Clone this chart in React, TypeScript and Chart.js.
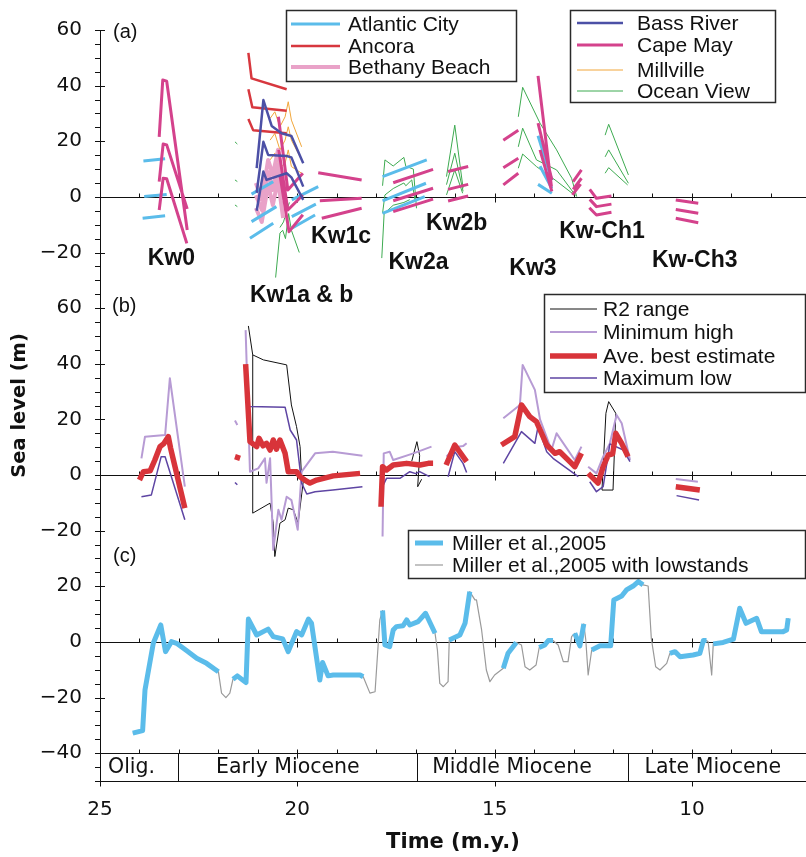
import { useEffect, useRef } from "react";
import { Chart, registerables } from "chart.js";

Chart.register(...registerables);

type Pt = [number, number];

// Each panel shares one vertical axis; its zero sits at this offset.
const OFFSET_A = 160;
const OFFSET_B = 60;
const OFFSET_C = 0;

const X_LEFT = 25;
const X_RIGHT = 7.11;
const Y_MIN = -50;
const Y_MAX = 220;

const timeTicks = [25, 20, 15, 10];

const epochNames = ["Olig.", "Early Miocene", "Middle Miocene", "Late Miocene"];
const epochBounds = [25, 23.03, 16.97, 11.61, 7.11];
const epochLabelTimes = [24.2, 20.24, 14.56, 9.47];

const kwLabels = ["Kw0", "Kw1a & b", "Kw1c", "Kw2a", "Kw2b", "Kw3", "Kw-Ch1", "Kw-Ch3"];
const kwLabelTimes = [23.19, 19.89, 18.89, 16.93, 15.96, 14.03, 12.28, 9.93];
const kwLabelLevels = [-22.3, -35.6, -14.4, -23.7, -9.7, -25.9, -12.6, -23.0];

// ---- (a) individual well estimates ----
const atlanticCity: Pt[][] = [
  [[23.9, 12.9], [23.35, 13.7]],
  [[23.88, 0.1], [23.31, 0.9]],
  [[23.92, -7.7], [23.35, -6.8]],
  [[21.16, 1.0], [20.61, 5.5]],
  [[21.16, -8.9], [20.53, -3.5]],
  [[21.2, -14.9], [20.61, -9.5]],
  [[20.14, -1.1], [19.47, 3.7]],
  [[20.14, -7.1], [19.53, -2.6]],
  [[20.14, -11.3], [19.55, -6.5]],
  [[17.84, 7.3], [16.72, 13.3]],
  [[17.84, -1.4], [16.74, 4.9]],
  [[17.84, -5.9], [16.77, 0.1]],
  [[13.9, 22], [13.55, 6]],
  [[13.85, 11], [13.55, 3]],
  [[13.9, 4.5], [13.55, 1.3]],
];

const ancora: Pt[][] = [
  [[21.24, 51.8], [21.16, 42.6], [20.27, 38.7]],
  [[21.24, 38.7], [21.14, 32.2], [20.27, 31.0]],
  [[21.24, 28.0], [21.12, 24.0], [20.27, 22.9]],
];

const bethanyBeach: Pt[][] = [
  [[21.05, 5], [20.9, -1], [20.74, 13.3], [20.62, 7.9], [20.49, 16.9], [20.36, 4.3]],
  [[21.05, 0.6], [20.9, -4.7], [20.74, 9], [20.62, 2.5], [20.49, 11.5], [20.36, -1.1]],
  [[21.05, -4], [20.9, -9], [20.74, 4.3], [20.62, -2.9], [20.49, 6.1], [20.36, -7.6]],
];

const bassRiver: Pt[][] = [
  [[21.03, 10.3], [20.86, 34.8], [20.65, 25.5], [20.4, 22.9], [20.15, 21.9], [19.85, 12.1]],
  [[21.03, 1.5], [20.86, 19.8], [20.74, 15.1], [20.27, 14.7], [20.15, 14.2], [19.85, 3.7]],
  [[21.03, -5.0], [20.86, 9.1], [20.78, 6.1], [20.27, 8.5], [20.15, 7], [19.85, -1.1]],
];

const capeMay: Pt[][] = [
  [[23.5, 21.6], [23.41, 42], [23.31, 41.6], [22.79, -11.9]],
  [[23.5, 5.5], [23.4, 19], [23.31, 18.7], [22.79, -4.3]],
  [[23.5, -4.7], [23.4, 6.7], [23.31, 6.5], [22.8, -16.7]],
  [[20.48, 28.8], [20.24, 2.5], [19.86, 8.5]],
  [[20.47, 16.9], [20.24, -4.7], [19.86, 0.7]],
  [[20.44, 7.9], [20.21, -12.5], [19.86, -6.4]],
  [[19.47, 8.7], [18.37, 6.1]],
  [[19.43, -1.4], [18.37, -0.5]],
  [[19.38, -7.7], [18.37, -4.1]],
  [[17.57, 5.1], [16.56, 9.9]],
  [[17.57, -1.4], [16.56, 3.1]],
  [[17.57, -5.3], [16.56, -0.8]],
  [[16.18, 9.1], [15.67, 10.9]],
  [[16.18, 2.7], [15.67, 4.5]],
  [[16.18, -1.5], [15.67, 0.3]],
  [[14.78, 20.4], [14.4, 24]],
  [[14.78, 10.5], [14.4, 13.9]],
  [[14.78, 4.3], [14.4, 8.5]],
  [[13.9, 43.5], [13.56, 3.7]],
  [[13.9, 26.5], [13.55, 6.1]],
  [[13.85, 16.9], [13.55, 2]],
  [[13.01, 5.5], [12.8, 9.7]],
  [[13.01, 2.7], [12.8, 6.7]],
  [[13.03, 0.7], [12.82, 4.6]],
  [[12.59, 2.7], [12.42, -0.5], [12.04, 0.3]],
  [[12.59, -0.9], [12.42, -3.5], [12.04, -2.6]],
  [[12.6, -3.9], [12.42, -6.5], [12.04, -5.5]],
  [[10.41, -1.1], [9.84, -2.3]],
  [[10.41, -4.5], [9.84, -5.9]],
  [[10.41, -7.7], [9.84, -9.3]],
];

const millville: Pt[][] = [
  [[20.69, 28.2], [20.57, 30.6], [20.44, 25.2], [20.31, 28.8], [20.23, 34.2], [20.15, 27.6], [19.89, 18.0]],
  [[20.69, 20.4], [20.57, 22.8], [20.44, 16.9], [20.31, 20.4], [20.23, 25.2], [20.15, 20.4], [19.89, 13.3]],
  [[20.69, 13.3], [20.57, 15.7], [20.44, 10.3], [20.31, 12.1], [20.23, 16.9], [20.15, 10.9], [19.89, 8.5]],
];

const oceanView: Pt[][] = [
  [[21.58, 19.8], [21.52, 19.0]],
  [[21.58, 6.1], [21.52, 5.5]],
  [[21.58, -2.9], [21.52, -3.5]],
  [[20.55, -29], [20.44, -13], [20.37, -12], [20.3, -15], [20.22, -6], [20.15, -12], [19.95, -20]],
  [[20.44, -11], [20.35, -9], [20.25, -4], [20.2, -2]],
  [[17.84, 4], [17.78, 13.3], [17.57, 11.1], [17.3, 14.2], [17.25, 11], [17.06, 10], [16.98, -4.1]],
  [[17.84, -5.9], [17.78, 0.7], [17.57, 3], [17.3, 5], [17.25, 4], [17.1, 6.1], [17.02, -1]],
  [[17.86, -22], [17.8, -6], [17.57, -3], [17.3, -2], [17.15, -1]],
  [[16.22, 7.3], [16.01, 25.8], [15.8, 3.1]],
  [[16.22, 4.4], [16.01, 15.7], [15.8, 2]],
  [[16.22, 0.7], [16.01, 9.7], [15.81, 1.3]],
  [[14.4, 28.8], [14.29, 39.4], [13.85, 26.5], [13.43, 16.9], [13.05, 6.7], [12.92, 0.1]],
  [[14.4, 18], [14.29, 24.7], [13.94, 13.3], [13.43, 9.7], [12.95, 0.5]],
  [[14.4, 10.3], [14.29, 15.4], [13.94, 10.9], [13.47, 6.1], [12.98, 0.7]],
  [[12.2, 22.2], [12.11, 26.1], [11.61, 7.9]],
  [[12.2, 14.4], [12.11, 16.9], [11.61, 4.9]],
  [[12.2, 8.5], [12.11, 10.5], [11.63, 4.3]],
];

// ---- (b) combined estimates ----
const r2Range: Pt[][] = [
  [[21.24, 53.6], [21.13, 43.2], [20.86, 41.4], [20.27, 39.6], [20.15, 25.2], [20.02, 17.4], [19.93, 10.2],
   [19.89, -1.8], [19.85, -2.4], [19.98, -17.3], [20.1, -12.5], [20.23, -11.9], [20.31, -16.1], [20.44, -17.3],
   [20.57, -29.3], [20.61, -17.3], [20.69, -10.1], [21.13, -13.7], [21.13, 43.2]],
  [[17.1, 5], [16.97, 12], [16.9, 7], [16.95, -4.2], [16.85, -1.5]],
  [[12.28, -5.4], [12.18, 22.2], [12.11, 26.4], [11.93, 22.2], [12.0, -5.4], [12.28, -5.4]],
];

const minimumHigh: Pt[][] = [
  [[23.95, 6], [23.86, 13.8], [23.35, 14.4], [23.23, 34.8], [22.85, -4.2]],
  [[21.58, 19.6], [21.52, 18]],
  [[21.31, 52.1], [21.2, 1.2], [20.99, 2.4], [20.82, 6], [20.78, -2.8], [20.69, 6], [20.61, -26.9], [20.48, -12.5],
   [20.4, -16.1], [20.27, -7.8], [20.15, -9], [19.99, -19.7], [19.89, 1.2], [19.55, 7.8], [19.1, 8.4], [18.35, 6.9]],
  [[17.84, -22.1], [17.81, 7.8], [17.66, 8.4], [17.57, 5.4], [17.06, 7.8], [16.6, 10.2]],
  [[16.22, 6.6], [16.01, 10], [15.8, 10.4], [15.71, 11.4]],
  [[14.78, 20.4], [14.36, 25.2], [14.29, 39.6], [13.98, 30.6], [13.85, 20], [13.56, 9], [13.43, 15], [12.97, 5.4], [12.8, 10.2]],
  [[12.63, 3], [12.42, 0.6], [12.25, 6.6], [12.08, 11.4], [11.91, 21.6], [11.78, 18.6], [11.57, 5.4]],
  [[10.41, -1.4], [9.85, -2.4]],
];

const aveBestEstimate: Pt[][] = [
  [[24.0, -1.8], [23.9, 1.2], [23.73, 1.5], [23.61, 5.4], [23.48, 10.2], [23.39, 11.2], [23.27, 13.8], [23.21, 9.6], [22.85, -11.9]],
  [[21.58, 6.6], [21.45, 6.0]],
  [[21.31, 39.9], [21.2, 12], [21.03, 10.2], [20.97, 13.2], [20.87, 10.5], [20.78, 11.4], [20.69, 9], [20.61, 12.6],
   [20.53, 9.3], [20.44, 12.6], [20.31, 7.8], [20.23, 1.2], [20.02, 1.2], [19.93, -0.6], [19.81, -1.8], [19.68, -2.9],
   [19.51, -1.8], [19.09, -0.3], [18.41, 0.6]],
  [[17.88, -11.4], [17.84, 3], [17.74, 1.8], [17.57, 3.6], [17.23, 4.2], [16.89, 3.6], [16.68, 4.2], [16.56, 4.2]],
  [[16.23, 3.6], [16.01, 10.8], [15.71, 4.8]],
  [[14.83, 10.8], [14.49, 13.8], [14.32, 25.2], [14.11, 21], [13.94, 19.2], [13.68, 10.8], [13.47, 7.8], [13.35, 8.4],
   [13.05, 4.2], [12.97, 3], [12.8, 7.8]],
  [[12.63, 0.6], [12.38, -2.9], [12.25, 3], [12.12, 7.2], [12.01, 7.6], [11.93, 15], [11.78, 11.4], [11.62, 6.6]],
  [[10.41, -4.2], [9.8, -5.4]],
];

const maximumLow: Pt[][] = [
  [[23.95, -7.8], [23.7, -7.2], [23.45, 6.6], [23.35, 6.6], [22.85, -16.1]],
  [[21.58, -2.7], [21.52, -3.5]],
  [[21.31, 28], [21.22, 24.6], [20.31, 24.4], [20.18, 16.2], [20.02, 12.6], [19.89, -2.9], [19.76, -6.8], [19.55, -6],
   [19.1, -5.4], [18.35, -4.2]],
  [[17.86, -4.7], [17.74, -1.2], [17.4, -1.2], [17.15, 1.2], [17.0, 0.5], [16.9, 1.2], [16.65, -0.6]],
  [[16.18, -0.6], [16.01, 8.4], [15.8, 4.2], [15.71, 0.9]],
  [[14.78, 4.2], [14.32, 15.6], [13.98, 11.4], [13.9, 17.4], [13.68, 8.4], [13.52, 6], [12.88, -0.6]],
  [[12.59, -2.4], [12.42, -6], [12.25, -4.2], [12.08, 11.2], [11.74, 9], [11.57, 4.8]],
  [[10.39, -7.4], [9.82, -9]],
];

// ---- (c) Miller et al. (2005) curve; highstand pieces and the lowstands between them ----
const miller2005: Pt[][] = [
  [[24.17, -32.8], [23.92, -31.9], [23.86, -17.3], [23.65, -0.5], [23.46, 6.1], [23.34, -3.5], [23.19, 0.1],
   [23.06, -0.5], [22.8, -3.2], [22.55, -5.9], [22.3, -7.7], [22.0, -10.7]],
  [[21.63, -13.4], [21.52, -12.2], [21.41, -13.4], [21.3, -14.6], [21.24, 8.2], [21.03, 2.5], [20.74, 4.6], [20.61, 1.9],
   [20.37, 1.1], [20.23, -3.5], [20.02, 3.7], [19.89, 2.5], [19.72, 8.2], [19.64, 6.7], [19.43, -13.7], [19.36, -7.4],
   [19.22, -12.2], [19.09, -11.9], [18.41, -11.9], [18.33, -12.5]],
  [[17.84, 11.3], [17.78, -1.1], [17.66, -1.7], [17.57, 4.3], [17.49, 5.5], [17.32, 5.8], [17.23, 7.9], [17.15, 6.1],
   [16.94, 7.3], [16.75, 10.3], [16.51, 3.1]],
  [[16.15, 0.7], [15.88, 2.5], [15.75, 6.7], [15.63, 18.1]],
  [[14.78, -9.5], [14.66, -4.1], [14.45, -0.2]],
  [[13.87, -2.0], [13.73, -1.1], [13.64, 0.5], [13.52, 0.5]],
  [[12.97, 3.1], [12.84, -1.4], [12.74, 6.5]],
  [[12.54, -2.9], [12.33, -1.4], [12.06, -1.4], [11.98, 15.1], [11.78, 16.5], [11.66, 18.7], [11.49, 20.1],
   [11.36, 21.7], [11.24, 20.5]],
  [[10.56, -4.1], [10.43, -3.5], [10.3, -5.3], [9.97, -4.7], [9.8, -4.1], [9.71, 0.5], [9.63, 0.5]],
  [[9.46, -0.7], [9.21, -0.2], [8.95, 1.0], [8.79, 12.1], [8.63, 6.7], [8.36, 8.5], [8.24, 3.7], [7.69, 3.7],
   [7.6, 4.3], [7.56, 8.5]],
];

const lowstands: Pt[][] = [
  [[21.92, -18.4], [21.81, -20], [21.71, -18.4]],
  [[18.16, -18.4], [18.03, -17.9], [17.91, 7.9]],
  [[16.45, -2.9], [16.39, -14.9], [16.3, -16.1], [16.18, -14.3]],
  [[15.5, 15.1], [15.46, 15.1], [15.33, 4.3], [15.21, -10.1], [15.12, -14.3], [15.0, -11.9]],
  [[14.32, -1.1], [14.23, -8.9], [14.11, -10.1], [13.95, -8.3]],
  [[13.39, -1.1], [13.26, -7.1], [13.14, -7.1], [13.05, 1.9]],
  [[12.69, 0.7], [12.63, -11.9]],
  [[11.11, 20.1], [11.03, 1.3], [10.92, -8.9], [10.81, -10.1], [10.64, -7.7]],
  [[9.59, 0.1], [9.5, -11.9]],
];

// The thin curve runs through every highstand piece and the lowstand that follows it.
const withLowstands: Pt[][] = [
  miller2005.reduce<Pt[]>((acc, seg, i) => acc.concat(seg, lowstands[i] || []), []),
];

const C = {
  atlantic: "#5BBCEA",
  ancora: "#D7373E",
  bethany: "#E9A2C8",
  bass: "#4C50A6",
  cape: "#D4428C",
  millville: "#F1A63A",
  ocean: "#3DAA50",
  r2: "#111111",
  minHigh: "#B79BD4",
  ave: "#D8343A",
  maxLow: "#5E45A3",
  lowstand: "#9A9A9A",
};

const SANS = "'Liberation Sans', Arial, Helvetica, sans-serif";
const AXIS = "'DejaVu Sans', 'Liberation Sans', sans-serif";

function toPoints(segs: Pt[][], offset: number) {
  const out: { x: number; y: number | null }[] = [];
  segs.forEach((seg, i) => {
    if (i > 0) out.push({ x: seg[0][0], y: null });
    seg.forEach(([t, v]) => out.push({ x: t, y: v + offset }));
  });
  return out;
}

function line(label: string, segs: Pt[][], offset: number, color: string, width: number, order: number) {
  return {
    label,
    data: toPoints(segs, offset),
    borderColor: color,
    backgroundColor: color,
    borderWidth: width,
    pointRadius: 0,
    tension: 0,
    spanGaps: false,
    fill: false,
    order,
    borderJoinStyle: "round" as const,
  };
}

function yTickLabel(v: number) {
  if (v < -40) return "";
  const local = v <= 20 ? v - OFFSET_C : v <= 120 ? v - OFFSET_B : v - OFFSET_A;
  return local < 0 ? "\u2212" + Math.abs(local) : String(local);
}

type LegendItem = { label: string; color: string; width: number };

function drawLegend(
  ctx: CanvasRenderingContext2D,
  box: [number, number, number, number],
  items: LegendItem[],
  rows: number[],
  sample: [number, number],
  textX: number
) {
  const [x0, y0, x1, y1] = box;
  ctx.fillStyle = "#ffffff";
  ctx.fillRect(x0, y0, x1 - x0, y1 - y0);
  ctx.strokeStyle = "#2a2a2a";
  ctx.lineWidth = 1.5;
  ctx.strokeRect(x0, y0, x1 - x0, y1 - y0);
  ctx.font = `21px ${SANS}`;
  ctx.textAlign = "left";
  ctx.textBaseline = "middle";
  items.forEach((it, i) => {
    const yy = rows[i];
    ctx.strokeStyle = it.color;
    ctx.lineWidth = it.width;
    ctx.beginPath();
    ctx.moveTo(sample[0], yy);
    ctx.lineTo(sample[1], yy);
    ctx.stroke();
    ctx.fillStyle = "#111";
    ctx.fillText(it.label, textX, yy + 1);
  });
}

const decor = {
  id: "decor",
  beforeDatasetsDraw(chart: any) {
    const { ctx, chartArea: ca, scales } = chart;
    const x = scales.x;
    const y = scales.y;
    const px = (t: number) => Math.round(x.getPixelForValue(t)) + 0.5;
    const py = (v: number) => Math.round(y.getPixelForValue(v)) + 0.5;
    ctx.save();
    ctx.strokeStyle = "#111";
    ctx.lineWidth = 1;

    const hline = (v: number) => {
      ctx.beginPath();
      ctx.moveTo(ca.left, py(v));
      ctx.lineTo(ca.right, py(v));
      ctx.stroke();
    };
    [OFFSET_A, OFFSET_B, OFFSET_C, -40, Y_MIN].forEach(hline);

    // vertical axis
    ctx.beginPath();
    ctx.moveTo(px(X_LEFT), py(Y_MAX));
    ctx.lineTo(px(X_LEFT), py(Y_MIN));
    ctx.stroke();

    // time ticks on every baseline
    for (let t = 8; t <= 25; t++) {
      const xx = px(t);
      const major = t % 5 === 0;
      [OFFSET_A, OFFSET_B, OFFSET_C, -40].forEach((v) => {
        const yy = py(v);
        ctx.beginPath();
        ctx.moveTo(xx, yy - 4);
        ctx.lineTo(xx, major ? yy + 5 : yy);
        ctx.stroke();
      });
      if (major) {
        const yy = py(Y_MIN);
        ctx.beginPath();
        ctx.moveTo(xx, t === 25 ? yy - 4 : yy);
        ctx.lineTo(xx, yy + 5);
        ctx.stroke();
      }
    }

    // level ticks on the vertical axis
    for (let v = Y_MIN; v <= Y_MAX; v += 5) {
      const yy = py(v);
      const major = v % 20 === 0 || v === Y_MIN;
      ctx.beginPath();
      ctx.moveTo(ca.left - 5, yy);
      ctx.lineTo(major ? ca.left + 5 : ca.left, yy);
      ctx.stroke();
    }

    // epoch boxes
    for (let i = 1; i < epochBounds.length - 1; i++) {
      ctx.beginPath();
      ctx.moveTo(px(epochBounds[i]), py(-40));
      ctx.lineTo(px(epochBounds[i]), py(Y_MIN));
      ctx.stroke();
    }
    ctx.fillStyle = "#111";
    ctx.font = `20.5px ${AXIS}`;
    ctx.textAlign = "center";
    ctx.textBaseline = "middle";
    const ym = (y.getPixelForValue(-40) + y.getPixelForValue(Y_MIN)) / 2;
    epochNames.forEach((n, i) => ctx.fillText(n, x.getPixelForValue(epochLabelTimes[i]), ym + 1));
    ctx.restore();
  },
  afterDatasetsDraw(chart: any) {
    const { ctx, chartArea: ca, scales } = chart;
    const x = scales.x;
    const y = scales.y;
    ctx.save();

    // panel tags
    ctx.fillStyle = "#111";
    ctx.font = `20px ${SANS}`;
    ctx.textAlign = "left";
    ctx.textBaseline = "middle";
    ctx.fillText("(a)", ca.left + 13, y.getPixelForValue(OFFSET_A + 59));
    ctx.fillText("(b)", ca.left + 12, y.getPixelForValue(OFFSET_B + 60.5));
    ctx.fillText("(c)", ca.left + 13, y.getPixelForValue(OFFSET_C + 30.7));

    // sequence names
    ctx.font = `bold 23px ${SANS}`;
    ctx.textAlign = "center";
    kwLabels.forEach((n, i) =>
      ctx.fillText(n, x.getPixelForValue(kwLabelTimes[i]), y.getPixelForValue(OFFSET_A + kwLabelLevels[i]))
    );

    drawLegend(
      ctx,
      [286.5, 10.5, 516.5, 81.5],
      [
        { label: "Atlantic City", color: C.atlantic, width: 3 },
        { label: "Ancora", color: C.ancora, width: 2.5 },
        { label: "Bethany Beach", color: C.bethany, width: 4 },
      ],
      [24, 46, 67],
      [291, 340],
      348
    );
    drawLegend(
      ctx,
      [570.5, 10.5, 775.5, 102.5],
      [
        { label: "Bass River", color: C.bass, width: 2.5 },
        { label: "Cape May", color: C.cape, width: 3 },
        { label: "Millville", color: C.millville, width: 1 },
        { label: "Ocean View", color: C.ocean, width: 1 },
      ],
      [23, 45, 70, 91],
      [577, 623],
      637
    );
    drawLegend(
      ctx,
      [544.5, 294.5, 805.5, 392.5],
      [
        { label: "R2 range", color: C.r2, width: 1 },
        { label: "Minimum high", color: C.minHigh, width: 2 },
        { label: "Ave. best estimate", color: C.ave, width: 5.5 },
        { label: "Maximum low", color: C.maxLow, width: 1.5 },
      ],
      [309, 332, 356, 378],
      [550, 597],
      603
    );
    drawLegend(
      ctx,
      [408.5, 530.5, 805.5, 578.5],
      [
        { label: "Miller et al.,2005", color: C.atlantic, width: 5 },
        { label: "Miller et al.,2005 with lowstands", color: C.lowstand, width: 1.2 },
      ],
      [543, 565],
      [415, 443],
      452
    );
    ctx.restore();
  },
};

export default function App() {
  const ref = useRef<HTMLCanvasElement | null>(null);

  useEffect(() => {
    if (!ref.current) return;
    const datasets = [
      line("Ocean View", oceanView, OFFSET_A, C.ocean, 1, 17),
      line("Millville", millville, OFFSET_A, C.millville, 1, 16),
      line("Bethany Beach", bethanyBeach, OFFSET_A, C.bethany, 4, 15),
      line("Atlantic City", atlanticCity, OFFSET_A, C.atlantic, 3, 14),
      line("Cape May", capeMay, OFFSET_A, C.cape, 3, 13),
      line("Ancora", ancora, OFFSET_A, C.ancora, 2.5, 12),
      line("Bass River", bassRiver, OFFSET_A, C.bass, 2.5, 11),
      line("R2 range", r2Range, OFFSET_B, C.r2, 1, 9),
      line("Minimum high", minimumHigh, OFFSET_B, C.minHigh, 2, 8),
      line("Maximum low", maximumLow, OFFSET_B, C.maxLow, 1.5, 7),
      line("Ave. best estimate", aveBestEstimate, OFFSET_B, C.ave, 5.5, 6),
      line("Miller et al.,2005 with lowstands", withLowstands, OFFSET_C, C.lowstand, 1.2, 3),
      line("Miller et al.,2005", miller2005, OFFSET_C, C.atlantic, 5, 2),
    ];

    const chart = new Chart(ref.current, {
      type: "line",
      data: { datasets } as any,
      options: {
        animation: false,
        responsive: false,
        maintainAspectRatio: false,
        devicePixelRatio: 1,
        events: [],
        layout: { padding: { top: 30, right: 0, left: 0, bottom: 0 } },
        plugins: { legend: { display: false }, tooltip: { enabled: false } },
        scales: {
          x: {
            type: "linear",
            reverse: true,
            min: X_RIGHT,
            max: X_LEFT,
            afterFit: (s: any) => {
              s.height = 76;
              s.paddingLeft = 0;
              s.paddingRight = 0;
            },
            grid: { display: false, drawTicks: false },
            border: { display: false },
            ticks: {
              stepSize: 5,
              autoSkip: false,
              maxRotation: 0,
              padding: 17,
              color: "#111",
              font: { family: AXIS, size: 20 },
              callback: (v: any) => (timeTicks.includes(Number(v)) ? String(v) : ""),
            },
            title: {
              display: true,
              text: "Time (m.y.)",
              color: "#111",
              font: { family: AXIS, size: 21, weight: "bold" },
              padding: { top: 0, bottom: 2 },
            },
          },
          y: {
            type: "linear",
            min: Y_MIN,
            max: Y_MAX,
            afterFit: (s: any) => {
              s.width = 100;
            },
            grid: { display: false, drawTicks: false },
            border: { display: false },
            ticks: {
              stepSize: 20,
              autoSkip: false,
              padding: 18,
              color: "#111",
              font: { family: AXIS, size: 20 },
              callback: (v: any) => yTickLabel(Number(v)),
            },
            title: {
              display: true,
              text: "Sea level (m)",
              color: "#111",
              font: { family: AXIS, size: 19.5, weight: "bold" },
              padding: { top: 8, bottom: 0 },
            },
          },
        },
      } as any,
      plugins: [decor],
    });
    return () => chart.destroy();
  }, []);

  return (
    <div style={{ position: "absolute", left: 0, top: 0, width: 806, height: 857, background: "#fff" }}>
      <canvas ref={ref} width={806} height={857} style={{ width: 806, height: 857, display: "block" }} />
    </div>
  );
}
